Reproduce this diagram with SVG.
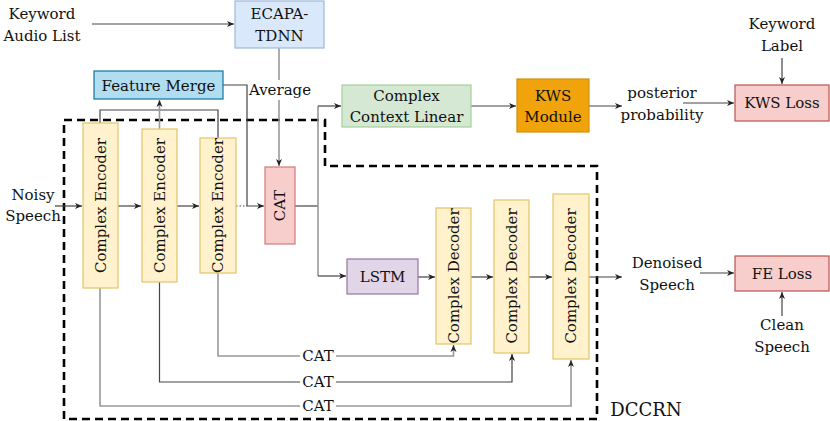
<svg xmlns="http://www.w3.org/2000/svg" width="830" height="421" viewBox="0 0 830 421">
<defs>
<marker id="ah" markerWidth="8" markerHeight="8" refX="7" refY="4" orient="auto" markerUnits="userSpaceOnUse">
<path d="M0,1 L7,4 L0,7 L2,4 Z" fill="#222"/>
</marker>
</defs>
<style>
text{font-family:"DejaVu Serif","Liberation Serif",serif;font-size:15px;fill:#111;text-anchor:middle;dominant-baseline:central}
.ln{fill:none;stroke:#444;stroke-width:1.2}
.lg{fill:none;stroke:#999;stroke-width:1.6}
.enc{fill:#fff2cc;stroke:#e3c36a;stroke-width:1.2}
</style>
<rect width="830" height="421" fill="#fff"/>

<g id="dccrn">
<path d="M64,120 H325 V166 H597 V419 H64 Z" fill="none" stroke="#000" stroke-width="2.6" stroke-dasharray="8,5"/>
<text x="646" y="409" style="font-size:18px">DCCRN</text>
</g>

<g id="connectors">
<path class="ln" d="M92,24 H234" marker-end="url(#ah)"/>
<path class="lg" d="M279,48 V166" marker-end="url(#ah)"/>
<path class="ln" d="M223,85 H247 V206 H264" marker-end="url(#ah)"/>
<path class="ln" d="M100,123 V110 H218 V138"/>
<path class="lg" d="M159.5,129 V100" marker-end="url(#ah)"/>
<path class="ln" d="M55,206 H82" marker-end="url(#ah)"/>
<path class="ln" d="M118,206 H141" marker-end="url(#ah)"/>
<path class="ln" d="M177,206 H199" marker-end="url(#ah)"/>
<path class="ln" d="M236,206 H247" stroke-dasharray="1.5,2"/>
<path class="ln" d="M295,206 H318"/>
<path class="lg" d="M318,276 V106"/>
<path class="ln" d="M318,106 H341" marker-end="url(#ah)"/>
<path class="ln" d="M318,276 H346" marker-end="url(#ah)"/>
<path class="ln" d="M471,106 H516" marker-end="url(#ah)"/>
<path class="ln" d="M589,106 H622" marker-end="url(#ah)"/>
<path class="ln" d="M683,103 H734" marker-end="url(#ah)"/>
<path class="ln" d="M782,58 V84" marker-end="url(#ah)"/>
<path class="ln" d="M418,277 H435" marker-end="url(#ah)"/>
<path class="ln" d="M471,277 H493" marker-end="url(#ah)"/>
<path class="ln" d="M529,277 H552" marker-end="url(#ah)"/>
<path class="ln" d="M589,277 H622" marker-end="url(#ah)"/>
<path class="ln" d="M700,273 H734" marker-end="url(#ah)"/>
<path class="ln" d="M782,316 V292" marker-end="url(#ah)"/>
<path class="lg" d="M218,273 V356 H453.5 V345" marker-end="url(#ah)"/>
<path class="ln" d="M159.5,282 V382 H512 V354" marker-end="url(#ah)"/>
<path class="lg" d="M100,288 V406 H571 V360" marker-end="url(#ah)"/>
<rect x="252" y="80" width="56" height="20" fill="#fff"/>
<text x="280" y="90">Average</text>
<rect x="300" y="347" width="36" height="18" fill="#fff"/>
<text x="318" y="356">CAT</text>
<rect x="300" y="373" width="36" height="18" fill="#fff"/>
<text x="318" y="382">CAT</text>
<rect x="300" y="397" width="36" height="18" fill="#fff"/>
<text x="318" y="406">CAT</text>
</g>

<g id="keyword-audio-list">
<text x="42" y="14">Keyword</text>
<text x="42" y="36">Audio List</text>
</g>
<g id="ecapa">
<rect x="235" y="1" width="89" height="47" fill="#dae8fc" stroke="#9fb8dc" stroke-width="1.2"/>
<text x="279.5" y="14">ECAPA-</text>
<text x="279.5" y="36">TDNN</text>
</g>
<g id="feature-merge">
<rect x="94" y="71" width="129" height="28" fill="#b1ddf0" stroke="#10739e" stroke-width="1.2"/>
<text x="158.5" y="86">Feature Merge</text>
</g>
<g id="noisy-speech">
<text x="33" y="195">Noisy</text>
<text x="33" y="216">Speech</text>
</g>
<g id="enc1">
<rect class="enc" x="83" y="123" width="35" height="165"/>
<text transform="translate(100.5,205.5) rotate(-90)">Complex Encoder</text>
</g>
<g id="enc2">
<rect class="enc" x="142" y="129" width="35" height="153"/>
<text transform="translate(159.5,205.5) rotate(-90)">Complex Encoder</text>
</g>
<g id="enc3">
<rect class="enc" x="200" y="138" width="36" height="135"/>
<text transform="translate(218,205.5) rotate(-90)">Complex Encoder</text>
</g>
<g id="cat">
<rect x="265" y="167" width="30" height="77" fill="#f8cecc" stroke="#d07b78" stroke-width="1.2"/>
<text transform="translate(280,205.5) rotate(-90)">CAT</text>
</g>
<g id="ccl">
<rect x="342" y="85" width="129" height="42" fill="#d5e8d4" stroke="#a6cf98" stroke-width="1.2"/>
<text x="406.5" y="96">Complex</text>
<text x="406.5" y="117">Context Linear</text>
</g>
<g id="kws-module">
<rect x="517" y="79" width="72" height="53" fill="#f0a30a" stroke="#d18f0e" stroke-width="1.2"/>
<text x="553" y="96">KWS</text>
<text x="553" y="117">Module</text>
</g>
<g id="posterior">
<text x="662" y="93">posterior</text>
<text x="662" y="115">probability</text>
</g>
<g id="keyword-label">
<text x="782" y="24">Keyword</text>
<text x="782" y="46">Label</text>
</g>
<g id="kws-loss">
<rect x="735" y="85" width="94" height="36" fill="#f8cecc" stroke="#b85450" stroke-width="1.2"/>
<text x="782" y="103">KWS Loss</text>
</g>
<g id="lstm">
<rect x="347" y="259" width="71" height="35" fill="#e1d5e7" stroke="#9673a6" stroke-width="1.2"/>
<text x="382.5" y="276.5">LSTM</text>
</g>
<g id="dec1">
<rect class="enc" x="436" y="208" width="35" height="136"/>
<text transform="translate(453.5,276) rotate(-90)">Complex Decoder</text>
</g>
<g id="dec2">
<rect class="enc" x="494" y="200" width="35" height="153"/>
<text transform="translate(511.5,276) rotate(-90)">Complex Decoder</text>
</g>
<g id="dec3">
<rect class="enc" x="553" y="194" width="36" height="165"/>
<text transform="translate(571,276) rotate(-90)">Complex Decoder</text>
</g>
<g id="denoised">
<text x="667" y="263">Denoised</text>
<text x="667" y="285">Speech</text>
</g>
<g id="fe-loss">
<rect x="735" y="256" width="94" height="35" fill="#f8cecc" stroke="#b85450" stroke-width="1.2"/>
<text x="782" y="273.5">FE Loss</text>
</g>
<g id="clean-speech">
<text x="782" y="325">Clean</text>
<text x="782" y="347">Speech</text>
</g>
</svg>
